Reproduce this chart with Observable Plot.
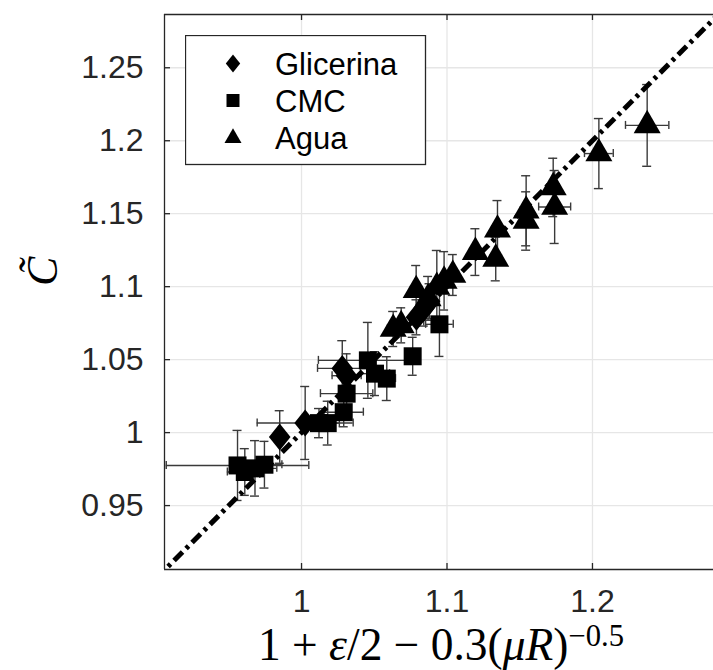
<!DOCTYPE html>
<html><head><meta charset="utf-8">
<script src="https://cdn.jsdelivr.net/npm/d3@7"></script>
<script src="https://cdn.jsdelivr.net/npm/@observablehq/plot@0.6"></script>
<style>
body{margin:0;background:#fff;}
#wrap{position:relative;width:713px;height:670px;overflow:hidden;background:#fff;}
#legend{position:absolute;left:185px;top:35px;}
</style></head><body><div id="wrap"></div>
<script>
// ---- data ----
const seriesNames = ["Glicerina", "CMC", "Agua"];

const glicerinaX    = [0.985, 1.0025, 1.028, 1.031, 1.079, 1.084, 1.088];
const glicerinaY    = [0.997, 1.0066, 1.044, 1.039, 1.079, 1.085, 1.090];
const glicerinaXErr = [0.004, 0.033, 0.017, 0.010, 0.004, 0.004, 0.004];
const glicerinaYErr = [0.018, 0.025, 0.019, 0.015, 0.012, 0.012, 0.012];

const cmcX    = [0.956, 0.961, 0.968, 0.9745, 1.012, 1.018, 1.029, 1.031, 1.0456, 1.0505, 1.0586, 1.0764, 1.0948];
const cmcY    = [0.9775, 0.973, 0.9755, 0.978, 1.0065, 1.0065, 1.014, 1.0267, 1.0495, 1.0404, 1.037, 1.0523, 1.0742];
const cmcXErr = [0.049, 0.012, 0.015, 0.012, 0.006, 0.008, 0.0135, 0.018, 0.034, 0.010, 0.006, 0.005, 0.0095];
const cmcYErr = [0.024, 0.016, 0.019, 0.016, 0.010, 0.015, 0.010, 0.010, 0.026, 0.015, 0.015, 0.013, 0.022];

const aguaX    = [1.063, 1.0685, 1.0788, 1.087, 1.093, 1.098, 1.104, 1.1195, 1.1335, 1.1347, 1.1544, 1.1544, 1.173, 1.174, 1.2044, 1.2376];
const aguaY    = [1.071, 1.0735, 1.0975, 1.092, 1.0998, 1.104, 1.108, 1.1237, 1.119, 1.139, 1.152, 1.145, 1.168, 1.1546, 1.1912, 1.2105];
const aguaXErr = [0.004, 0.004, 0.004, 0.004, 0.004, 0.004, 0.004, 0.004, 0.004, 0.004, 0.004, 0.004, 0.004, 0.011, 0.0099, 0.0149];
const aguaYErr = [0.012, 0.012, 0.017, 0.015, 0.025, 0.020, 0.014, 0.016, 0.015, 0.020, 0.024, 0.020, 0.020, 0.025, 0.024, 0.028];

const refLine = [0.9, 1.3];   // y = x

const xTicks = [1, 1.1, 1.2];
const xTickLabels = ["1", "1.1", "1.2"];
const yTicks = [0.95, 1, 1.05, 1.1, 1.15, 1.2, 1.25];
const yTickLabels = ["0.95", "1", "1.05", "1.1", "1.15", "1.2", "1.25"];

const xDomain = [0.9058, 1.2832];
const yDomain = [0.9062, 1.2865];

// ---- build tables ----
const rows = (X, Y, XE, YE) => X.map((x, i) => ({x, y: Y[i], xe: XE[i], ye: YE[i]}));
const glicerina = rows(glicerinaX, glicerinaY, glicerinaXErr, glicerinaYErr);
const cmc = rows(cmcX, cmcY, cmcXErr, cmcYErr);
const agua = rows(aguaX, aguaY, aguaXErr, aguaYErr);
const all = [...glicerina, ...cmc, ...agua];

// ---- custom symbols ----
const diamondSym = {draw(ctx, size){const r=Math.sqrt(size/Math.PI), w=r*0.8; ctx.moveTo(0,-r); ctx.lineTo(w,0); ctx.lineTo(0,r); ctx.lineTo(-w,0); ctx.closePath();}};
const squareSym = {draw(ctx, size){const r=Math.sqrt(size/Math.PI); ctx.moveTo(-r,-r); ctx.lineTo(r,-r); ctx.lineTo(r,r); ctx.lineTo(-r,r); ctx.closePath();}};
const triangleSym = {draw(ctx, size){const r=Math.sqrt(size/Math.PI), h=r*Math.sqrt(3); ctx.moveTo(0,-2*h/3); ctx.lineTo(r,h/3); ctx.lineTo(-r,h/3); ctx.closePath();}};

// ---- layout ----
const W = 713, H = 670, mL = 164, mR = 0, mT = 14, mB = 101;
const pxX = (W - mL - mR) / (xDomain[1] - xDomain[0]);
const pxY = (H - mT - mB) / (yDomain[1] - yDomain[0]);
const tickLenX = 6 / pxX, tickLenY = 6 / pxY;
const capX = 4.5 / pxX, capY = 4 / pxY;
const axisColor = "#262626", errColor = "#3a3a3a", gridColor = "#e6e6e6";
const sansFont = "'Liberation Sans', Arial, Helvetica, sans-serif";
const serifFont = "'Liberation Serif', 'Times New Roman', serif";

const chart = Plot.plot({
  width: W, height: H,
  marginLeft: mL, marginRight: mR, marginTop: mT, marginBottom: mB,
  x: {domain: xDomain, axis: null},
  y: {domain: yDomain, axis: null},
  style: {background: "white", fontFamily: sansFont},
  marks: [
    // grid
    Plot.ruleX(xTicks, {x: d => d, stroke: gridColor, strokeWidth: 1.3}),
    Plot.ruleY(yTicks, {y: d => d, stroke: gridColor, strokeWidth: 1.3}),
    // error bars: vertical
    Plot.ruleX(all, {x: "x", y1: d => d.y - d.ye, y2: d => d.y + d.ye, stroke: errColor, strokeWidth: 1.4, clip: true}),
    Plot.ruleY(all, {y: d => d.y - d.ye, x1: d => d.x - capX, x2: d => d.x + capX, stroke: errColor, strokeWidth: 1.4, clip: true}),
    Plot.ruleY(all, {y: d => d.y + d.ye, x1: d => d.x - capX, x2: d => d.x + capX, stroke: errColor, strokeWidth: 1.4, clip: true}),
    // error bars: horizontal
    Plot.ruleY(all, {y: "y", x1: d => d.x - d.xe, x2: d => d.x + d.xe, stroke: errColor, strokeWidth: 1.4, clip: true}),
    Plot.ruleX(all, {x: d => d.x - d.xe, y1: d => d.y - capY, y2: d => d.y + capY, stroke: errColor, strokeWidth: 1.4, clip: true}),
    Plot.ruleX(all, {x: d => d.x + d.xe, y1: d => d.y - capY, y2: d => d.y + capY, stroke: errColor, strokeWidth: 1.4, clip: true}),
    // markers
    Plot.dot(cmc, {x: "x", y: "y", symbol: squareSym, r: 9, fill: "black", stroke: "none"}),
    Plot.dot(glicerina, {x: "x", y: "y", symbol: diamondSym, r: 13.5, fill: "black", stroke: "none"}),
    Plot.dot(agua, {x: "x", y: "y", symbol: triangleSym, r: 13.5, fill: "black", stroke: "none"}),
    // reference line (dash-dot)
    Plot.line(refLine.map(v => ({x: v, y: v})), {x: "x", y: "y", stroke: "black", strokeWidth: 5, strokeLinecap: "butt", strokeDasharray: "12,5,3.5,5", clip: true}),
    // axes lines
    Plot.ruleX([xDomain[0]], {x: d => d, stroke: axisColor, strokeWidth: 1.3}),
    Plot.ruleY([yDomain[0]], {y: d => d, stroke: axisColor, strokeWidth: 1.3}),
    Plot.ruleY([yDomain[1]], {y: d => d, stroke: axisColor, strokeWidth: 1.3}),
    // inward ticks
    Plot.ruleX(xTicks, {x: d => d, y1: yDomain[0], y2: yDomain[0] + tickLenY, stroke: axisColor, strokeWidth: 1.3}),
    Plot.ruleX(xTicks, {x: d => d, y1: yDomain[1], y2: yDomain[1] - tickLenY, stroke: axisColor, strokeWidth: 1.3}),
    Plot.ruleY(yTicks, {y: d => d, x1: xDomain[0], x2: xDomain[0] + tickLenX, stroke: axisColor, strokeWidth: 1.3}),
    // tick labels
    Plot.text(xTicks, {x: d => d, y: yDomain[0], text: (d, i) => xTickLabels[i], dy: 32, fontSize: 32, fill: axisColor, fontFamily: sansFont}),
    Plot.text(yTicks, {x: xDomain[0], y: d => d, text: (d, i) => yTickLabels[i], textAnchor: "end", dx: -21, fontSize: 32, fill: axisColor, fontFamily: sansFont}),
    // y label
    Plot.text(["C\u0303"], {frameAnchor: "left", dx: -122, dy: -6, rotate: -90, fontSize: 44, fontStyle: "italic", fontFamily: serifFont, fill: "black"})
  ]
});

document.getElementById("wrap").appendChild(chart);

// x label (math)
const svg = d3.select(chart);
const baseSize = 40, supSize = 27, supRaise = 12;
const t = svg.append("text")
  .attr("x", 441).attr("y", 660).attr("text-anchor", "middle")
  .style("font-family", serifFont).style("font-size", baseSize + "px").attr("fill", "black");
t.append("tspan").text("1 + ");
t.append("tspan").style("font-style", "italic").text("\u03B5");
t.append("tspan").text("/2 \u2212 0.3(");
t.append("tspan").style("font-style", "italic").text("\u03BCR");
t.append("tspan").text(")");
const sup = t.append("tspan").attr("dy", -supRaise).style("font-size", supSize + "px").text("\u22120.5");
// fit the label to the reference width (~366px)
const bw = t.node().getBBox().width;
if (bw > 0) {
  const k = 366 / bw;
  t.style("font-size", (baseSize * k) + "px");
  sup.style("font-size", (supSize * k) + "px").attr("dy", -supRaise * k);
}

// legend
const symbols = [diamondSym, squareSym, triangleSym];
const legR = [9, 6.5, 8.5];
const lw = 240, lh = 129;
const leg = d3.select("#wrap").append("svg").attr("id", "legend").attr("width", lw + 2).attr("height", lh + 2);
leg.append("rect").attr("x", 0.5).attr("y", 0.5).attr("width", lw).attr("height", lh).attr("fill", "white").attr("stroke", axisColor).attr("stroke-width", 1.3);
const rowY = [28.5, 65.5, 103];
seriesNames.forEach((name, i) => {
  leg.append("path").attr("transform", `translate(48,${rowY[i]})`)
    .attr("d", d3.symbol(symbols[i], Math.PI * legR[i] * legR[i])())
    .attr("fill", "black");
  leg.append("text").attr("x", 90).attr("y", rowY[i]).attr("dy", "0.36em")
    .style("font-family", sansFont).style("font-size", "31px").attr("fill", "black").text(name);
});
</script>
</body></html>
